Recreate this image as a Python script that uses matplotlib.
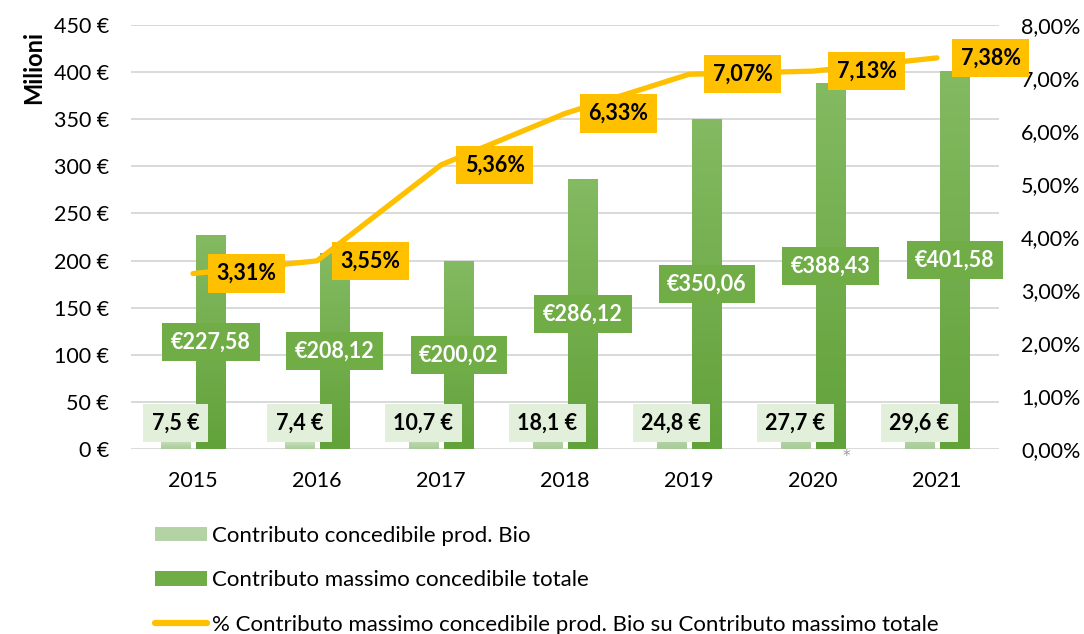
import matplotlib
matplotlib.use('Agg')
import matplotlib.pyplot as plt
import numpy as np
from matplotlib.ticker import FuncFormatter, MultipleLocator
from matplotlib.colors import LinearSegmentedColormap
from matplotlib.lines import Line2D
from matplotlib.patches import Patch

years = ['2015', '2016', '2017', '2018', '2019', '2020', '2021']
bio = [7.5, 7.4, 10.7, 18.1, 24.8, 27.7, 29.6]
totale = [227.58, 208.12, 200.02, 286.12, 350.06, 388.43, 401.58]
quota = [3.31, 3.55, 5.36, 6.33, 7.07, 7.13, 7.38]

lbl_bio = 'Contributo concedibile prod. Bio'
lbl_tot = 'Contributo massimo concedibile totale'
lbl_pct = '% Contributo massimo concedibile prod. Bio su Contributo massimo totale'

plt.rcParams['font.family'] = ['Lato', 'DejaVu Sans']
FS = 15.5
LFS = 15.5
GFS = 16

fig = plt.figure(figsize=(10.84, 6.34), dpi=100)
ax = fig.add_axes([131/1084, 1-449/634, 868/1084, 424/634])
x = np.arange(len(years))
w = 0.235
off_l, off_r = -0.142, 0.145

b1 = ax.bar(x + off_l, bio, w, color='#B4D3A5', zorder=2)
b2 = ax.bar(x + off_r, totale, w, color='#70AD47', zorder=2)

# vertical gradients
cm_dark = LinearSegmentedColormap.from_list('d', ['#62A23A', '#84BA62'])
cm_light = LinearSegmentedColormap.from_list('l', ['#A9CC98', '#C6DFBA'])
grad = np.linspace(0, 1, 256).reshape(-1, 1)
for bars, cm in ((b2, cm_dark), (b1, cm_light)):
    for p in bars:
        x0, y0 = p.get_x(), p.get_y()
        im = ax.imshow(grad, extent=[x0, x0 + p.get_width(), y0, y0 + p.get_height()],
                       origin='lower', aspect='auto', cmap=cm, zorder=2.1)
        im.set_clip_path(p)

ax.set_xlim(-0.5, len(years) - 0.5)
ax.set_ylim(0, 450)
ax.yaxis.set_major_locator(MultipleLocator(50))
ax.yaxis.set_major_formatter(FuncFormatter(lambda v, p: f'{v:.0f} €'))
ax.set_xticks(x)
ax.set_xticklabels(years)
ax.tick_params(axis='both', length=0, labelsize=FS, colors='#000000')
ax.tick_params(axis='y', pad=16)
ax.tick_params(axis='x', pad=16)
ax.yaxis.grid(True, color='#D9D9D9', lw=1.4, zorder=0)
ax.set_axisbelow(True)
for s in ax.spines.values():
    s.set_visible(False)

for xi, v in zip(x, bio):
    ax.annotate(f'{v:.1f} €'.replace('.', ','), xy=(xi + off_l, 0), xytext=(0, 18.7),
                textcoords='offset points', ha='center', va='center', fontsize=LFS,
                fontweight='bold', color='black', zorder=5,
                bbox=dict(boxstyle='square,pad=0.4', fc='#E2EFDA', ec='none'))
for xi, v in zip(x, totale):
    ax.annotate(f'€{v:.2f}'.replace('.', ','), xy=(xi + off_r, v / 2),
                ha='center', va='center', fontsize=LFS, fontweight='bold',
                color='white', zorder=5,
                bbox=dict(boxstyle='square,pad=0.4', fc='#70AD47', ec='none'))

ax2 = ax.twinx()
ax2.set_ylim(0, 8)
ax2.yaxis.set_major_locator(MultipleLocator(1))
ax2.yaxis.set_major_formatter(FuncFormatter(lambda v, p: f'{v:.2f}%'.replace('.', ',')))
ax2.tick_params(axis='y', length=0, labelsize=FS, pad=16)
for s in ax2.spines.values():
    s.set_visible(False)
ax2.plot(x, quota, color='#FFC000', lw=3.8, solid_capstyle='round',
         solid_joinstyle='round', zorder=3)
for xi, v in zip(x, quota):
    ax2.annotate(f'{v:.2f}%'.replace('.', ','), xy=(xi, v), xytext=(17, 0),
                 textcoords='offset points', ha='left', va='center', fontsize=LFS,
                 fontweight='bold', color='black', zorder=6,
                 bbox=dict(boxstyle='square,pad=0.4', fc='#FFC000', ec='none'))

fig.text(34/1084, 1-68/634, 'Milioni', rotation=90, fontsize=17, fontweight='bold',
         ha='center', va='center')
fig.text(846/1084, 1-457/634, '*', fontsize=11, color='#999999', ha='center', va='center',
         family='DejaVu Sans')

handles = [Patch(facecolor='#B4D3A5', edgecolor='none'),
           Patch(facecolor='#70AD47', edgecolor='none'),
           Line2D([0], [0], color='#FFC000', lw=4.5, solid_capstyle='round')]
fig.legend(handles, [lbl_bio, lbl_tot, lbl_pct], loc='upper left',
           bbox_to_anchor=(155/1084, 1-526/634), frameon=False, fontsize=GFS,
           handlelength=2.35, handleheight=0.63, handletextpad=0.22,
           labelspacing=1.1, borderpad=0, borderaxespad=0)

fig.savefig('out.png', dpi=100)
